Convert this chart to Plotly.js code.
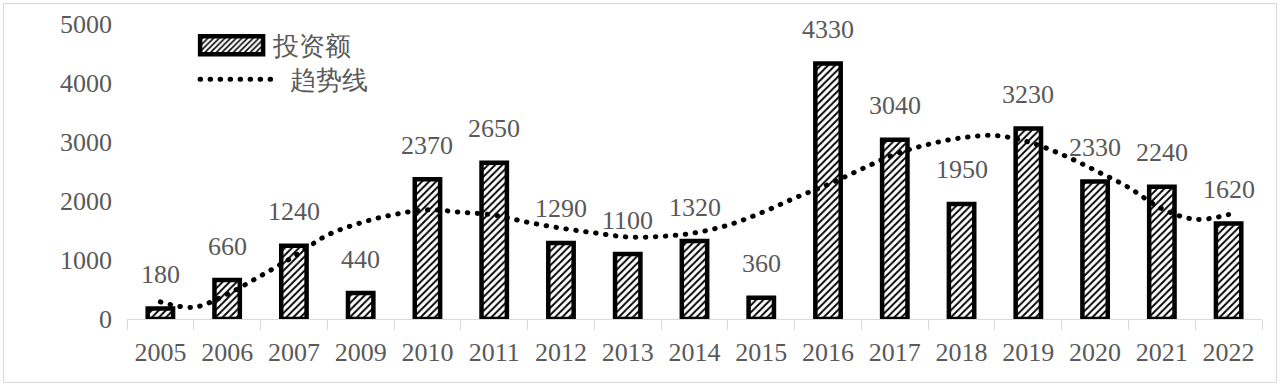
<!DOCTYPE html>
<html>
<head>
<meta charset="utf-8">
<script src="https://cdn.plot.ly/plotly-3.0.1.min.js"></script>
<style>
  body { margin: 0; background: #fff; }
  #wrap { position: relative; width: 1280px; height: 388px; }
  #chart { position: absolute; left: 0; top: 0; width: 1280px; height: 388px; }
  #frame { position: absolute; left: 3px; top: 3px; width: 1272px; height: 378px; border: 1.5px solid #d9d9d9; pointer-events: none; }
  .scatterlayer .js-line, .legendlines path { stroke-linecap: round !important; }
</style>
</head>
<body>
<div id="wrap"><div id="chart"></div><div id="frame"></div></div>
<script>
// Categories (year labels) and investment values
const years = ['2005','2006','2007','2009','2010','2011','2012','2013','2014','2015','2016','2017','2018','2019','2020','2021','2022'];
const investment = [180, 660, 1240, 440, 2370, 2650, 1290, 1100, 1320, 360, 4330, 3040, 1950, 3230, 2330, 2240, 1620];

// Trend line at half-category steps (position index, value)
const trendPos = [0, 0.5, 1, 1.5, 2, 2.5, 3, 3.5, 4, 4.5, 5, 5.5, 6, 6.5, 7, 7.5, 8, 8.5, 9, 9.5, 10, 10.5, 11, 11.5, 12, 12.5, 13, 13.5, 14, 14.5, 15, 15.5, 16];
const trendVal = [290, 200, 420, 730, 1060, 1420, 1630, 1770, 1850, 1810, 1760, 1640, 1540, 1460, 1390, 1400, 1460, 1590, 1800, 2050, 2280, 2540, 2790, 2960, 3070, 3110, 3000, 2790, 2520, 2230, 1870, 1690, 1770];

const yTicks = [0, 1000, 2000, 3000, 4000, 5000];

const idx = years.map((_, i) => i);
const FONT = 'Liberation Serif';
const GRAY = '#595959';

const bars = {
  type: 'bar',
  name: '投资额',
  x: idx,
  y: investment,
  width: 0.38,
  marker: {
    color: '#ffffff',
    line: { color: '#000000', width: 4.5 },
    pattern: { shape: '/', fgcolor: '#000000', bgcolor: '#ffffff', size: 5, solidity: 0.38 }
  },
  hoverinfo: 'skip'
};

const trend = {
  type: 'scatter',
  mode: 'lines',
  name: '趋势线',
  x: trendPos,
  y: trendVal,
  line: { color: '#000000', width: 5, dash: '0.5px,9.5px', shape: 'spline', smoothing: 1 },
  hoverinfo: 'skip'
};

const labels = idx.map(i => ({
  x: i, y: investment[i], xref: 'x', yref: 'y',
  text: String(investment[i]), showarrow: false,
  yanchor: 'middle', yshift: 34,
  font: { family: FONT, size: 26, color: GRAY }
}));

const layout = {
  width: 1280, height: 388,
  margin: { l: 127, r: 18, t: 24, b: 69 },
  paper_bgcolor: '#ffffff', plot_bgcolor: '#ffffff',
  showlegend: true,
  legend: {
    x: 0.06, y: 1.007, xanchor: 'left', yanchor: 'top',
    font: { family: FONT, size: 26, color: GRAY },
    bgcolor: 'rgba(0,0,0,0)', itemwidth: 70, tracegroupgap: 0
  },
  xaxis: {
    range: [-0.5, 16.5],
    tickmode: 'array', tickvals: idx, ticktext: years,
    ticks: '', showgrid: false, zeroline: false,
    showline: true, linecolor: '#d9d9d9', linewidth: 1,
    ticklabelstandoff: 10,
    minor: { tickmode: 'linear', tick0: -0.5, dtick: 1, ticks: 'outside', ticklen: 10, tickcolor: '#d9d9d9', tickwidth: 1, showgrid: false },
    tickfont: { family: FONT, size: 26, color: GRAY },
    fixedrange: true
  },
  yaxis: {
    range: [0, 5000],
    tickmode: 'array', tickvals: yTicks, ticktext: yTicks.map(String),
    ticks: '', showgrid: false, zeroline: false, showline: false,
    ticklabelstandoff: 14,
    tickfont: { family: FONT, size: 26, color: GRAY },
    fixedrange: true
  },
  annotations: labels
};

Plotly.newPlot('chart', [bars, trend], layout, { staticPlot: true, displayModeBar: false }).then(gd => {
  // no clipping of the legend, so the shifted text stays visible
  gd.querySelectorAll('.legend [clip-path]').forEach(el => el.removeAttribute('clip-path'));
  // enlarge legend symbols to match the reference's long swatches
  const items = gd.querySelectorAll('.legend .traces');
  items.forEach((it, k) => {
    const pts = it.querySelectorAll('.legendpoints path');
    pts.forEach(p => { p.setAttribute('transform', ''); p.setAttribute('d', 'M5,-9h63v18h-63Z'); });
    const lns = it.querySelectorAll('.legendlines path');
    lns.forEach(p => { p.setAttribute('transform', ''); p.setAttribute('d', 'M5,0h72'); });
    const t = it.querySelector('.legendtext');
    if (t) t.setAttribute('x', k === 0 ? 78 : 95);
    if (k === 1) {
      const tr = it.getAttribute('transform') || '';
      const m = tr.match(/translate\(\s*([-\d.]+)[ ,]+([-\d.]+)\s*\)/);
      if (m) it.setAttribute('transform', 'translate(' + m[1] + ',' + (parseFloat(m[2]) - 3) + ')');
    }
  });
});
</script>
</body>
</html>
